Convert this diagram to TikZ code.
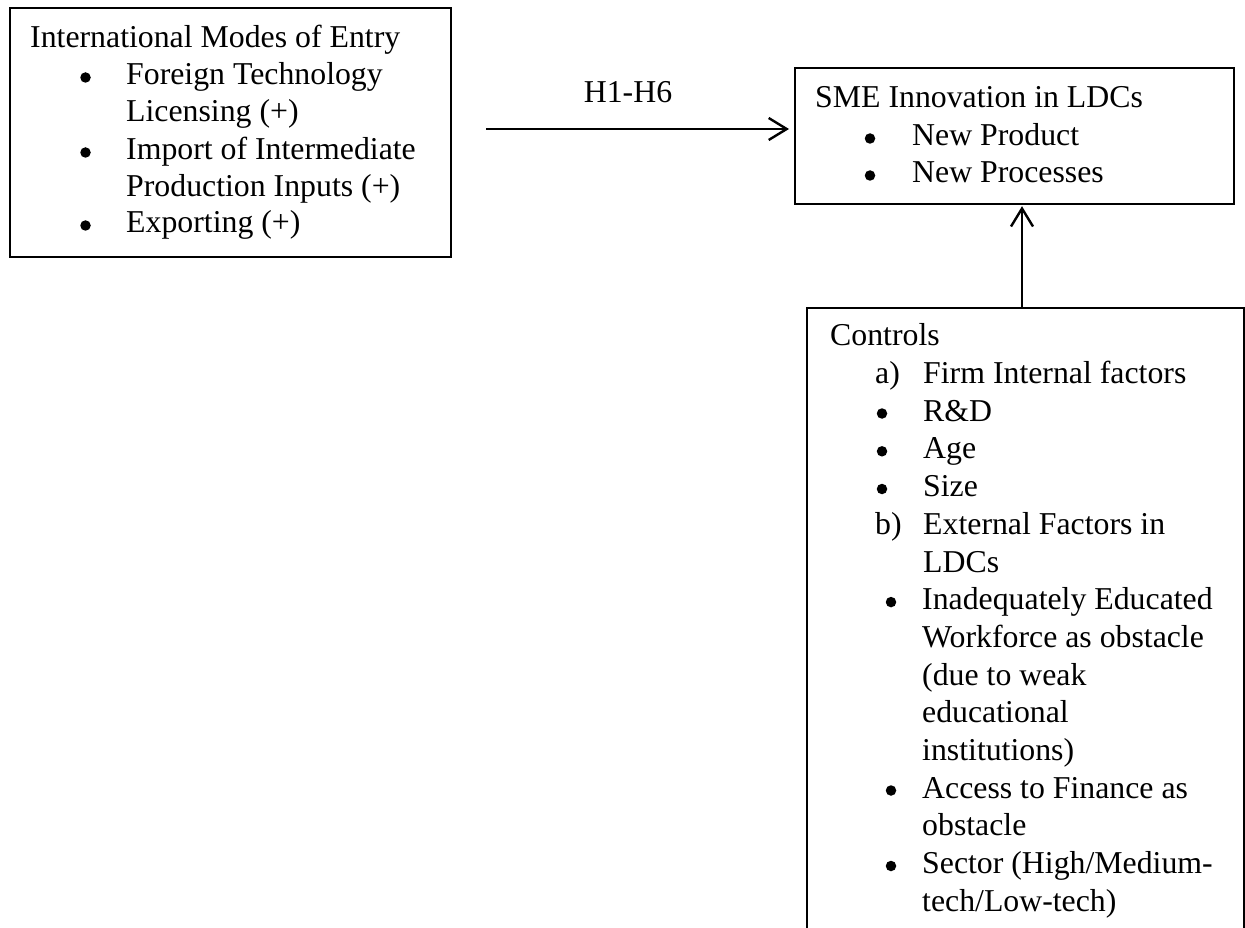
\documentclass[tikz,border=0pt]{standalone}
\usepackage{fontspec}
\setmainfont{Liberation Serif}
\usetikzlibrary{arrows.meta}
\begin{document}
\begin{tikzpicture}[x=1pt,y=-1pt,
  box/.style={draw, line width=1.7pt, anchor=north west, inner sep=0pt},
  txt/.style={anchor=base west, inner sep=0pt, font=\fontsize{31.8}{37}\selectfont},
  lab/.style={anchor=base, inner sep=0pt, font=\fontsize{31.8}{37}\selectfont},
  dot/.style={circle, fill=black, draw=none, inner sep=0pt, minimum size=10.5pt},
  arr/.style={line width=2.4pt, -{Straight Barb[length=18pt,width=22pt,line width=2.4pt]}}]
\clip (0,0) rectangle (1245,928);
\fill[white] (0,0) rectangle (1245,928);
% boxes
\node[box, minimum width=441pt, minimum height=249pt] (modes) at (9,7) {};
\node[box, minimum width=439pt, minimum height=136pt] (sme) at (794,67) {};
\node[box, minimum width=437pt, minimum height=700pt] (ctrl) at (806,307) {};
% box 1 text
\node[txt] (m0) at (30,48) {International Modes of Entry};
\node[dot] (mb1) at (85.5,77.5) {};
\node[txt] (m1) at (126,85) {Foreign Technology};
\node[txt] (m2) at (126,122) {Licensing (+)};
\node[dot] (mb2) at (85.5,152.5) {};
\node[txt] (m3) at (126,160) {Import of Intermediate};
\node[txt] (m4) at (126,197) {Production Inputs (+)};
\node[dot] (mb3) at (85.5,225.5) {};
\node[txt] (m5) at (126,233) {Exporting (+)};
% SME text
\node[txt] (s0) at (815,108) {SME Innovation in LDCs};
\node[dot] (sb1) at (870,138.5) {};
\node[txt] (s1) at (912,146) {New Product};
\node[dot] (sb2) at (870,175.5) {};
\node[txt] (s2) at (912,183) {New Processes};
% Controls text
\node[txt] (c0) at (830,345.7) {Controls};
\node[txt] (ca) at (875,383.4) {a)};
\node[txt] (c1) at (923,383.4) {Firm Internal factors};
\node[dot] (cb1) at (882,413.5) {};
\node[txt] (c2) at (923,421) {R\&D};
\node[dot] (cb2) at (882,451.3) {};
\node[txt] (c3) at (923,458.8) {Age};
\node[dot] (cb3) at (882,489) {};
\node[txt] (c4) at (923,496.5) {Size};
\node[txt] (cbb) at (875,534) {b)};
\node[txt] (c5) at (923,534) {External Factors in};
\node[txt] (c6) at (923,572) {LDCs};
\node[dot] (cb4) at (891,602.1) {};
\node[txt] (c7) at (922,609.6) {Inadequately Educated};
\node[txt] (c8) at (922,647.3) {Workforce as obstacle};
\node[txt] (c9) at (922,685) {(due to weak};
\node[txt] (c10) at (922,722.7) {educational};
\node[txt] (c11) at (922,760.4) {institutions)};
\node[dot] (cb5) at (891,790.5) {};
\node[txt] (c12) at (922,798) {Access to Finance as};
\node[txt] (c13) at (922,835.8) {obstacle};
\node[dot] (cb6) at (891,866) {};
\node[txt] (c14) at (922,873.5) {Sector (High/Medium-};
\node[txt] (c15) at (922,911.2) {tech/Low-tech)};
% arrows
\coordinate (hstart) at (486,129);
\draw[arr, shorten >=5pt] (hstart) -- (sme.west |- hstart);
\node[lab] (hlab) at (628,103) {H1-H6};
\coordinate (vstart) at (1022,307);
\draw[arr, shorten >=1.5pt] (vstart) -- (sme.south -| vstart);
\end{tikzpicture}
\end{document}
